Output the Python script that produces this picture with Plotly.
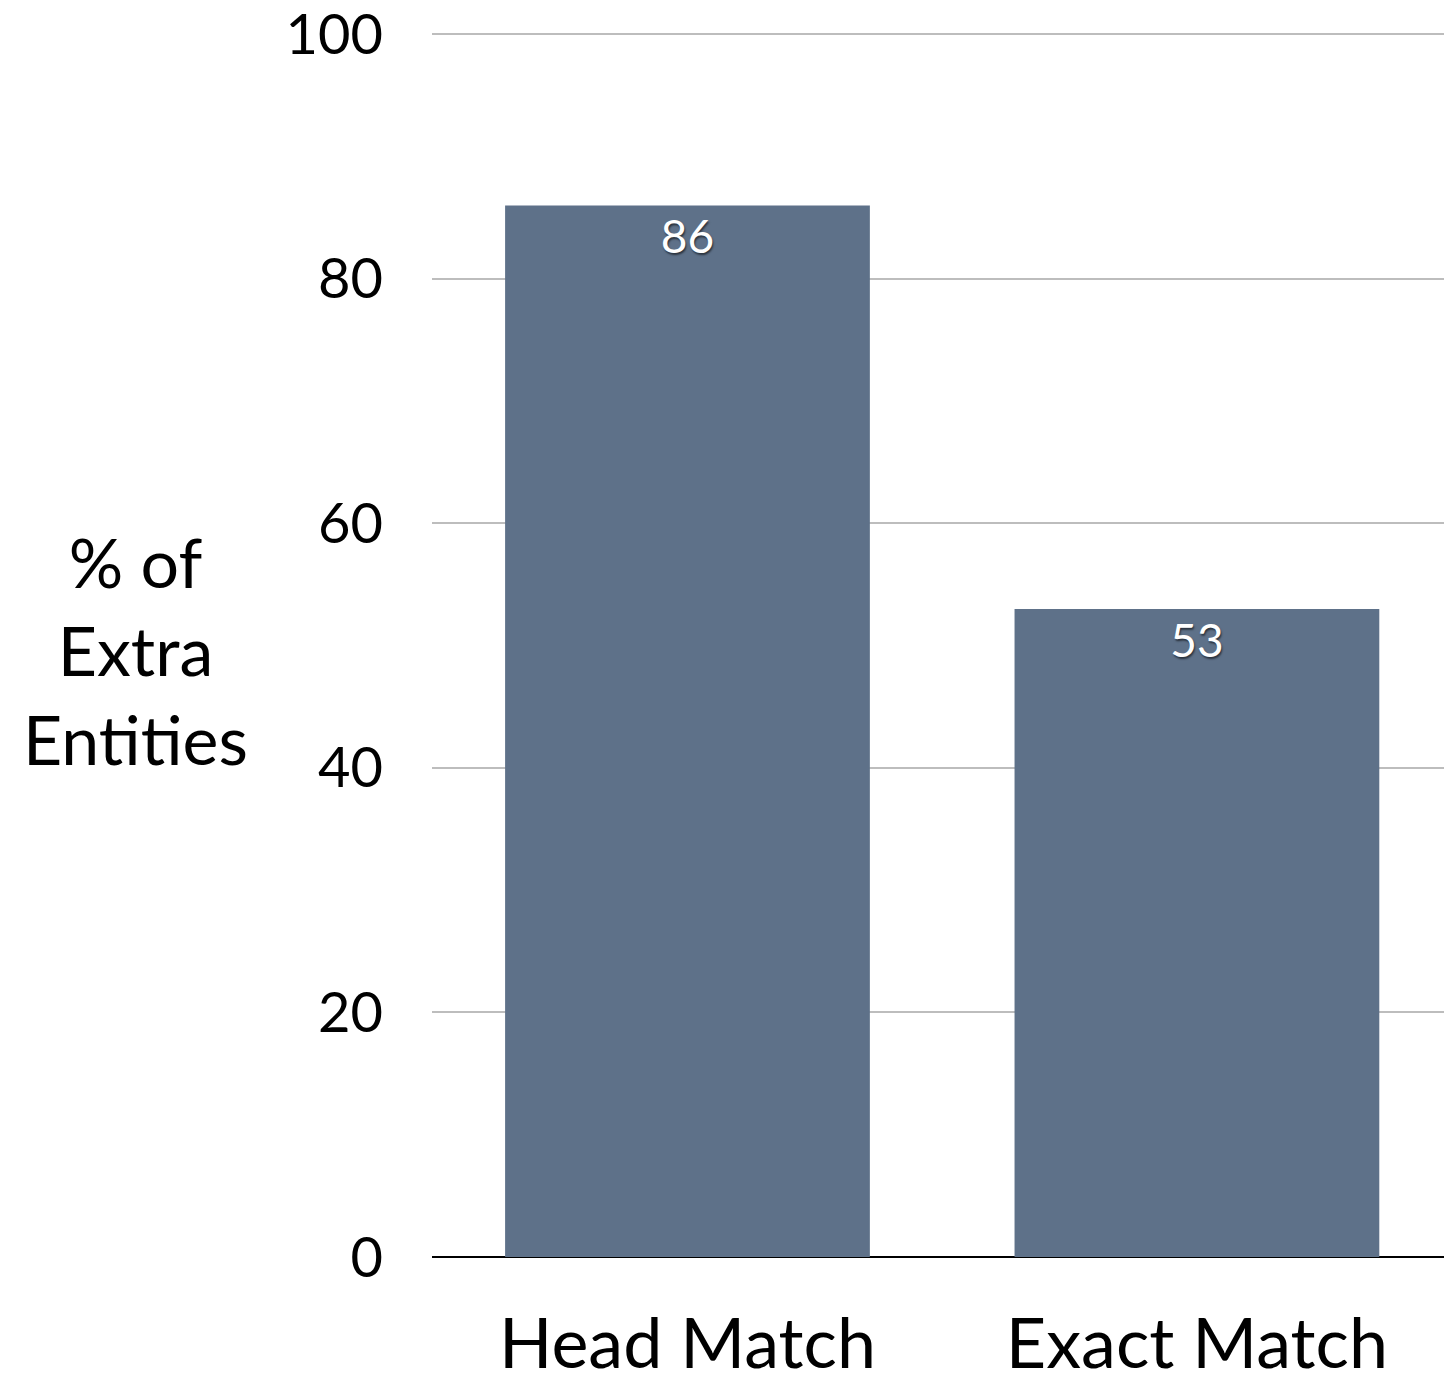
import plotly.graph_objects as go

categories = ["Head Match", "Exact Match"]
values = [86, 53]
tick_vals = [0, 20, 40, 60, 80, 100]
y_title_lines = ["% of", "Extra", "Entities"]

font_family = "Lato, 'Open Sans', sans-serif"

W, H = 1444, 1382
ML, MR, MT, MB = 432, 0, 33, 125

fig = go.Figure()
fig.add_trace(go.Bar(
    x=categories,
    y=values,
    width=0.716,
    marker=dict(color="#5E7189", line=dict(width=0)),
    text=[str(v) for v in values],
    textposition="inside",
    insidetextanchor="end",
    textfont=dict(color="white", size=46, family=font_family,
                  shadow="1px 2px 2px rgba(0,0,0,0.55)"),
))

fig.update_layout(
    width=W, height=H,
    margin=dict(l=ML, r=MR, t=MT, b=MB, autoexpand=False),
    paper_bgcolor="white", plot_bgcolor="white",
    showlegend=False,
    font=dict(family=font_family, color="black"),
)
fig.update_yaxes(
    range=[0, 100.1], tickvals=tick_vals,
    showgrid=True, gridcolor="#BDBDBD", gridwidth=2,
    zeroline=True, zerolinecolor="black", zerolinewidth=2,
    showline=False, ticks="", automargin=False,
    tickfont=dict(size=56, family=font_family),
    ticklabelstandoff=48, ticklabeloverflow="allow",
)
fig.update_xaxes(
    range=[-0.5015, 1.485],
    showgrid=False, showline=False, ticks="", automargin=False,
    tickfont=dict(size=70, family=font_family),
    ticklabelstandoff=40, ticklabeloverflow="allow",
)
plot_w = W - ML - MR
plot_h = H - MT - MB
fig.add_annotation(
    x=(135 - ML) / plot_w, y=(H - MB - 650) / plot_h,
    xref="paper", yref="paper",
    text="<br>".join(y_title_lines),
    showarrow=False, xanchor="center", yanchor="middle",
    font=dict(size=68, family=font_family, color="black"),
)

fig.write_html(
    "out.html",
    config={"responsive": False, "displayModeBar": False},
    post_script="document.body.style.margin='0';document.body.style.overflow='hidden';",
)
